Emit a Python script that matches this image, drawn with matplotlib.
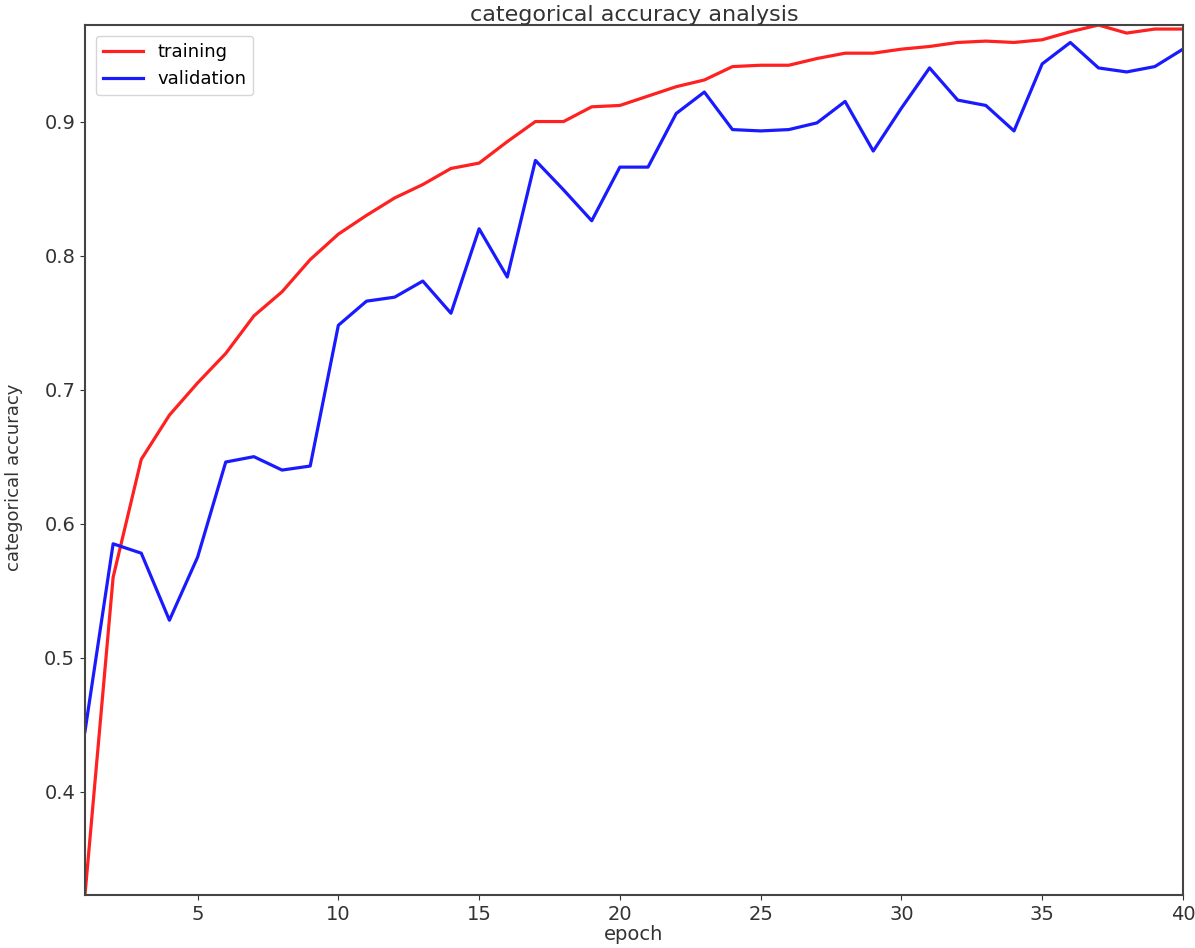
import matplotlib
matplotlib.use("Agg")
import matplotlib.pyplot as plt
import numpy as np

epochs = np.arange(1, 41)
training = [0.323, 0.56, 0.648, 0.681, 0.705, 0.727, 0.755, 0.773, 0.797, 0.816,
            0.83, 0.843, 0.853, 0.865, 0.869, 0.885, 0.9, 0.9, 0.911, 0.912,
            0.919, 0.926, 0.931, 0.941, 0.942, 0.942, 0.947, 0.951, 0.951, 0.954,
            0.956, 0.959, 0.96, 0.959, 0.961, 0.967, 0.972, 0.966, 0.969, 0.969]
validation = [0.445, 0.585, 0.578, 0.528, 0.575, 0.646, 0.65, 0.64, 0.643, 0.748,
              0.766, 0.769, 0.781, 0.757, 0.82, 0.784, 0.871, 0.849, 0.826, 0.866,
              0.866, 0.906, 0.922, 0.894, 0.893, 0.894, 0.899, 0.915, 0.878, 0.91,
              0.94, 0.916, 0.912, 0.893, 0.943, 0.959, 0.94, 0.937, 0.941, 0.954]

fig = plt.figure(figsize=(11.95, 9.48), dpi=100)
ax = fig.add_axes([0.0711, 0.0559, 0.9188, 0.9177])
ax.plot(epochs, training, color='#ff2020', lw=2.3, label='training')
ax.plot(epochs, validation, color='#1a1aff', lw=2.3, label='validation')

ax.set_xlim(1, 40)
ax.set_ylim(min(training + validation), max(training + validation))
ax.set_xticks([5, 10, 15, 20, 25, 30, 35, 40])
ax.set_yticks([0.4, 0.5, 0.6, 0.7, 0.8, 0.9])
ax.tick_params(labelsize=14, colors='#333333')
for s in ax.spines.values():
    s.set_color('#444444')
    s.set_linewidth(1.5)

ax.set_title('categorical accuracy analysis', fontsize=16, pad=3, color='#333333')
ax.set_xlabel('epoch', fontsize=14, labelpad=1, color='#333333')
ax.set_ylabel('categorical accuracy', fontsize=13, color='#333333')
ax.yaxis.set_label_coords(-0.056, 0.48)
ax.legend(loc='upper left', fontsize=13, handlelength=2.2, borderaxespad=0.6)

fig.savefig('out.png', dpi=100)
